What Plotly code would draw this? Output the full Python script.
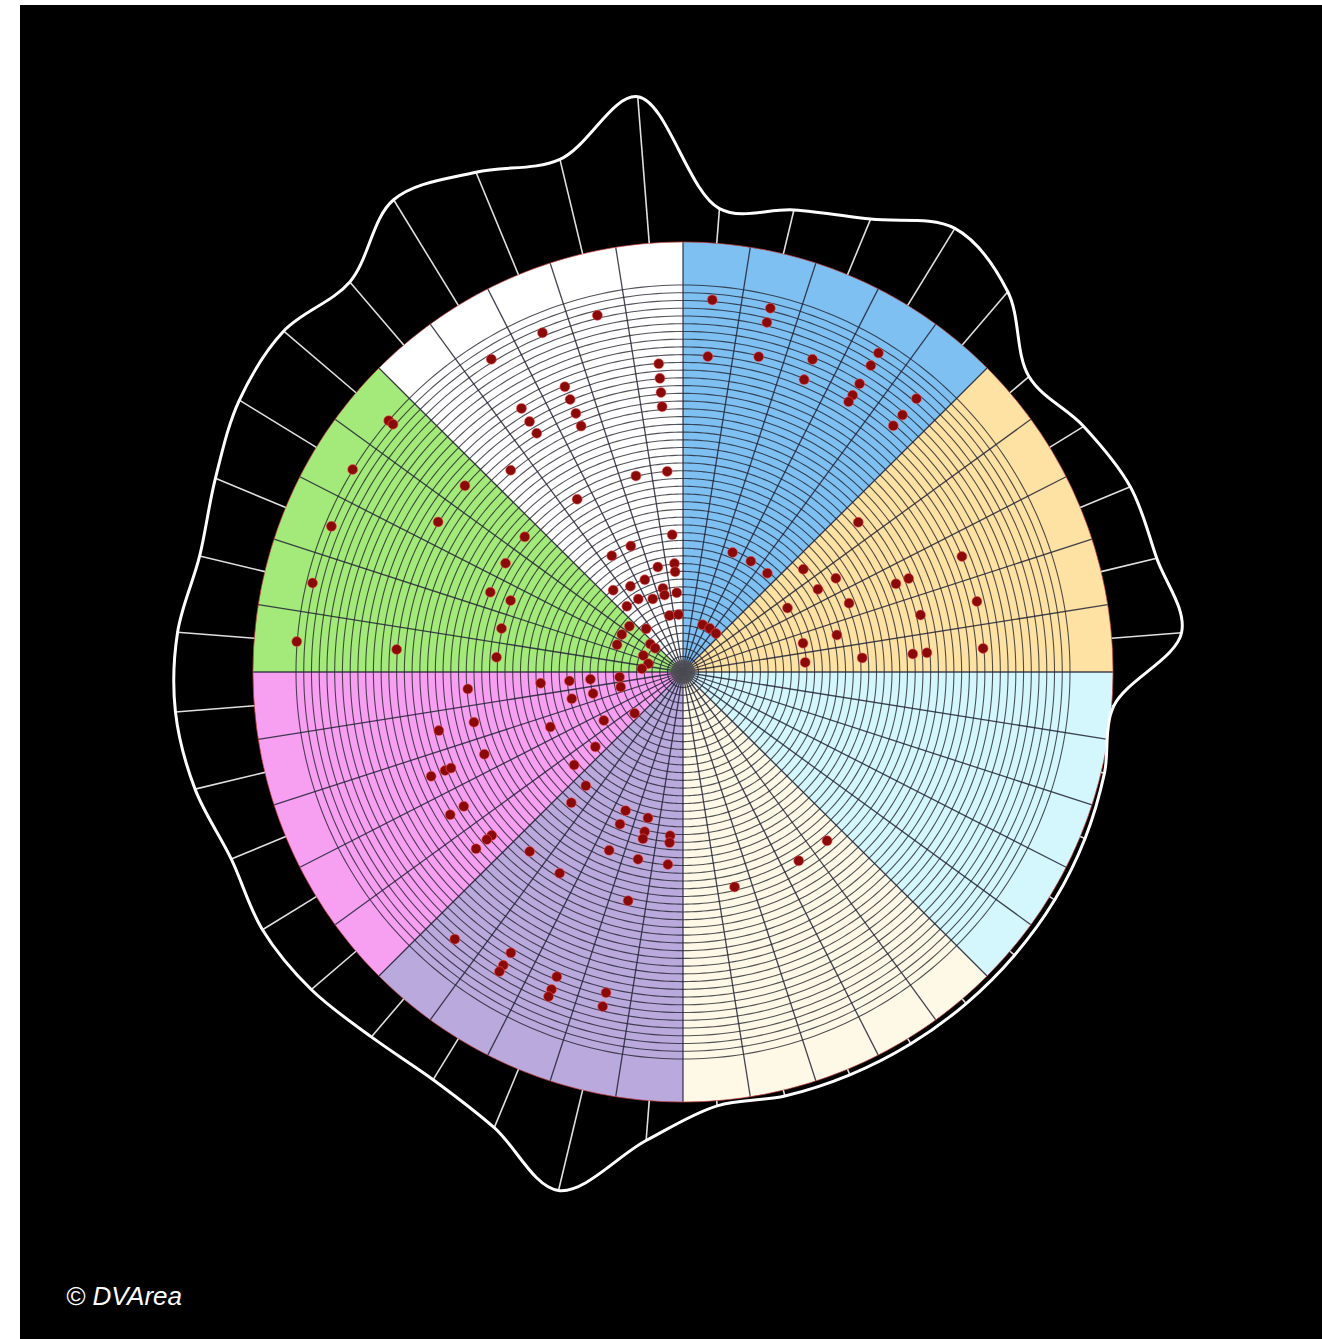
import numpy as np
import plotly.graph_objects as go

# ---------------- data ----------------
sector_start = [0, 45, 90, 135, 180, 225, 270, 315]
sector_colors = ["#7fc0f2", "#fde2a4", "#d4f7fd", "#fdf9e6",
                 "#b9a9dc", "#f7a0f2", "#a3ea7a", "#ffffff"]
OUTER = 100.0          # radius of the coloured disc
RING_STEP = 1.8        # spacing of concentric guide rings
N_RINGS = 50
SPOKE_STEP = 9         # degrees between spokes

# outer white contour (value at the middle of every 9-degree slot)
curve_theta = [4.5, 13.5, 22.5, 31.5, 40.5, 49.5, 58.5, 67.5, 76.5, 85.5,
               94.5, 103.5, 112.5, 121.5, 130.5, 139.5, 148.5, 157.5, 166.5, 175.5,
               184.5, 193.5, 202.5, 211.5, 220.5, 229.5, 238.5, 247.5, 256.5, 265.5,
               274.5, 283.5, 292.5, 301.5, 310.5, 319.5, 328.5, 337.5, 346.5, 355.5]
curve_value = [108.1, 110.5, 114.0, 121.0, 116.3, 105.8, 109.3, 112.6, 113.3, 116.3,
               100.5, 100.8, 101.2, 101.4, 101.4, 101.4, 101.4, 101.4, 101.4, 101.2,
               109.3, 124.0, 114.7, 111.2, 111.6, 113.7, 114.7, 113.7, 116.7, 118.4,
               117.9, 115.6, 117.7, 121.0, 122.1, 119.3, 128.8, 125.8, 122.6, 134.2]

# scatter dots: angle (deg, clockwise from north) and value
dot_theta = [
    # blue
    4.5, 13.5, 13.5, 4.5, 13.5, 22.5, 22.5, 31.5, 31.5, 31.5, 31.5, 31.5, 40.5, 40.5, 40.5,
    22.5, 31.5, 40.5, 22.5, 31.5, 40.5,
    # yellow
    49.5, 49.5, 58.5, 58.5, 67.5, 58.5, 67.5, 67.5, 67.5, 76.5, 76.5, 76.5, 76.5,
    85.5, 85.5, 85.5, 85.5, 85.5,
    # cream
    166.5, 148.5, 139.5,
    # white
    346.5, 355.5, 355.5, 355.5, 355.5, 346.5, 355.5, 337.5, 328.5, 337.5, 337.5, 337.5, 337.5,
    328.5, 328.5, 328.5, 319.5, 328.5, 355.5, 337.5, 328.5, 346.5, 355.5, 355.5, 337.5, 328.5,
    319.5, 346.5, 346.5, 355.5, 328.5, 337.5, 319.5, 346.5, 355.5, 319.5,
    # green
    310.5, 301.5, 292.5, 310.5, 310.5, 292.5, 283.5, 274.5,
    310.5, 310.5, 301.5, 310.5, 301.5, 292.5, 310.5, 301.5, 283.5, 292.5, 292.5, 283.5,
    274.5, 274.5, 274.5,
    # pink
    265.5, 265.5, 265.5, 265.5, 265.5, 256.5, 256.5, 256.5, 229.5, 238.5, 256.5, 256.5,
    247.5, 229.5, 247.5, 229.5, 247.5, 247.5, 247.5, 238.5, 238.5, 229.5, 229.5, 229.5,
    # lavender
    220.5, 220.5, 202.5, 193.5, 202.5, 193.5, 193.5, 184.5, 184.5, 220.5, 202.5, 193.5,
    184.5, 211.5, 193.5, 220.5, 211.5, 211.5, 211.5, 202.5, 202.5, 202.5, 193.5, 193.5,
]
dot_value = [
    # blue
    86.8, 87.0, 83.6, 73.6, 75.4, 78.7, 73.6, 87.0, 83.6, 78.6, 75.5, 73.7, 83.6, 78.6, 75.3,
    30.1, 30.2, 30.2, 11.9, 11.9, 11.8,
    # yellow
    53.6, 36.8, 41.7, 36.8, 41.8, 28.5, 70.2, 53.6, 56.8, 70.3, 56.8, 36.8, 28.7,
    28.5, 41.8, 53.6, 56.9, 70.0,
    # cream
    51.4, 51.5, 51.6,
    # white
    85.3, 71.9, 68.5, 65.2, 61.9, 46.9, 46.8, 85.4, 85.3, 71.8, 68.6, 65.1, 61.9,
    71.9, 68.3, 65.1, 61.7, 47.1, 32.0, 31.7, 31.7, 25.1, 25.3, 23.4, 23.2, 23.4,
    25.0, 20.0, 18.4, 18.5, 19.9, 18.4, 20.1, 13.5, 13.4, 13.2,
    # green
    16.4, 16.7, 16.6, 10.0, 8.5, 10.0, 8.3, 9.6,
    90.0, 88.7, 90.1, 66.7, 66.8, 88.5, 48.4, 48.4, 88.6, 48.5, 43.4, 43.4,
    90.1, 66.8, 43.5,
    # pink
    21.6, 14.8, 50.2, 33.2, 26.5, 14.9, 26.6, 21.5, 14.8, 21.6, 50.0, 58.4,
    33.4, 26.8, 50.0, 33.3, 59.9, 58.4, 63.4, 59.8, 63.5, 58.5, 60.0, 63.3,
    # lavender
    34.8, 40.0, 34.9, 34.9, 38.3, 38.2, 39.9, 38.2, 39.8, 54.9, 44.9, 44.8,
    44.9, 54.9, 54.7, 81.7, 76.6, 80.0, 81.7, 76.7, 79.9, 81.7, 76.7, 80.0,
]

# ---------------- figure ----------------
W, H = 1322, 1339
RADIUS_PX = 600            # polar disc radius on the page
PX_PER_UNIT = 4.3
R_MAX = RADIUS_PX / PX_PER_UNIT
CX, CY = 683, 672          # centre on the page (px from left / top)

fig = go.Figure()

# coloured sectors
fig.add_trace(go.Barpolar(
    theta=[s + 22.5 for s in sector_start],
    r=[OUTER] * len(sector_start),
    width=[45] * len(sector_start),
    marker=dict(color=sector_colors, line=dict(width=0)),
    opacity=1, hoverinfo="skip", showlegend=False))

# concentric rings
ring_t, ring_r = [], []
circ = list(np.linspace(0, 360, 361))
for k in range(1, N_RINGS + 1):
    ring_t += circ + [None]
    ring_r += [k * RING_STEP] * 361 + [None]
fig.add_trace(go.Scatterpolar(theta=ring_t, r=ring_r, mode="lines",
                              line=dict(color="rgba(25,25,35,0.75)", width=1.1),
                              hoverinfo="skip", showlegend=False))

# inner spokes
sp_t, sp_r = [], []
for a in range(0, 360, SPOKE_STEP):
    sp_t += [a, a, None]
    sp_r += [0, OUTER, None]
fig.add_trace(go.Scatterpolar(theta=sp_t, r=sp_r, mode="lines",
                              line=dict(color="rgba(35,35,55,0.85)", width=1.3),
                              hoverinfo="skip", showlegend=False))

# thin reddish outline of the disc
fig.add_trace(go.Scatterpolar(theta=circ, r=[OUTER] * 361, mode="lines",
                              line=dict(color="rgba(210,70,70,0.7)", width=1),
                              hoverinfo="skip", showlegend=False))

# outer white spokes to the contour
os_t, os_r = [], []
for a, v in zip(curve_theta, curve_value):
    os_t += [a, a, None]
    os_r += [OUTER, v, None]
fig.add_trace(go.Scatterpolar(theta=os_t, r=os_r, mode="lines",
                              line=dict(color="rgba(235,235,235,0.95)", width=1.6),
                              hoverinfo="skip", showlegend=False))

# white smooth contour
fig.add_trace(go.Scatterpolar(theta=curve_theta + curve_theta[:1],
                              r=curve_value + curve_value[:1], mode="lines",
                              line=dict(color="white", width=3, shape="spline", smoothing=1),
                              hoverinfo="skip", showlegend=False))

# centre blob
fig.add_trace(go.Scatterpolar(theta=[0], r=[0], mode="markers",
                              marker=dict(size=24, color="rgba(80,80,85,0.85)"),
                              hoverinfo="skip", showlegend=False))

# dots
fig.add_trace(go.Scatterpolar(theta=dot_theta, r=dot_value, mode="markers",
                              marker=dict(size=10, color="#8a0a0a",
                                          line=dict(color="rgba(255,90,90,0.55)", width=1)),
                              showlegend=False))

fig.update_layout(
    width=W, height=H,
    margin=dict(l=0, r=0, t=0, b=0),
    paper_bgcolor="black", plot_bgcolor="black",
    showlegend=False,
    polar=dict(
        domain=dict(x=[(CX - RADIUS_PX) / W, (CX + RADIUS_PX) / W],
                    y=[(H - CY - RADIUS_PX) / H, (H - CY + RADIUS_PX) / H]),
        bgcolor="rgba(0,0,0,0)",
        radialaxis=dict(range=[0, R_MAX], visible=False, showgrid=False,
                        showline=False, showticklabels=False, ticks=""),
        angularaxis=dict(rotation=90, direction="clockwise", showgrid=False,
                         showline=False, showticklabels=False, ticks=""),
    ),
    shapes=[
        dict(type="rect", xref="paper", yref="paper", x0=0, x1=20 / W, y0=0, y1=1,
             fillcolor="white", line=dict(width=0), layer="above"),
        dict(type="rect", xref="paper", yref="paper", x0=0, x1=1, y0=1 - 5 / H, y1=1,
             fillcolor="white", line=dict(width=0), layer="above"),
    ],
    annotations=[dict(text="<i>© DVArea</i>", xref="paper", yref="paper",
                      x=64 / W, y=1 - 1296 / H, xanchor="left", yanchor="middle",
                      showarrow=False,
                      font=dict(family="Liberation Sans, Arial, sans-serif", size=26,
                                color="white"))],
)

fig.write_html("out.html",
               config={"displayModeBar": False},
               post_script="document.body.style.margin='0';"
                           "document.body.style.overflow='hidden';")
